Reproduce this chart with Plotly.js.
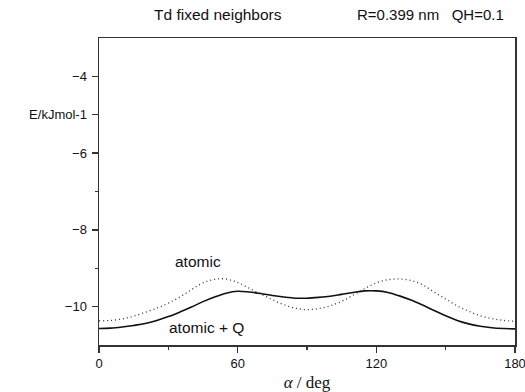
<!DOCTYPE html>
<html>
<head>
<meta charset="utf-8">
<script src="https://cdn.plot.ly/plotly-3.0.1.min.js"></script>
<style>html,body{margin:0;padding:0;background:#fff;}#chart{width:525px;height:392px;}</style>
</head>
<body>
<div id="chart"></div>
<script>
var alpha = [0,5,10,15,20,25,30,35,40,45,50,55,60,65,70,75,80,85,90,95,100,105,110,115,120,125,130,135,140,145,150,155,160,165,170,175,180];
var atomicQ = [-10.57,-10.56,-10.53,-10.49,-10.44,-10.36,-10.26,-10.14,-10.01,-9.87,-9.75,-9.65,-9.60,-9.62,-9.66,-9.71,-9.75,-9.78,-9.78,-9.76,-9.73,-9.68,-9.63,-9.59,-9.59,-9.63,-9.72,-9.83,-9.96,-10.10,-10.24,-10.36,-10.45,-10.51,-10.55,-10.57,-10.58];
var atomic = [-10.37,-10.36,-10.32,-10.25,-10.15,-10.04,-9.91,-9.75,-9.56,-9.38,-9.29,-9.28,-9.37,-9.52,-9.67,-9.82,-9.95,-10.04,-10.08,-10.05,-9.98,-9.86,-9.70,-9.53,-9.38,-9.30,-9.28,-9.32,-9.43,-9.62,-9.80,-9.98,-10.12,-10.24,-10.31,-10.36,-10.38];
var xTickVals = [0,60,120,180];
var xTickText = ["0","60","120","180"];
var yTickVals = [-10,-8,-6,-5,-4];
var yTickText = ["\u221210","\u22128","\u22126","E/kJmol-1","\u22124"];
var titleLeft = "Td fixed neighbors";
var titleRight = "R=0.399 nm &nbsp; QH=0.1";
var labelAtomic = "atomic";
var labelAtomicQ = "atomic + Q";

var font = "Liberation Sans, Arial, sans-serif";
var traces = [
  {x: alpha, y: atomic, mode: "lines", line: {color: "#333", width: 1.3, dash: "1px,3px", shape: "spline"}, hoverinfo: "skip"},
  {x: alpha, y: atomicQ, mode: "lines", line: {color: "#111", width: 1.6, shape: "spline"}, hoverinfo: "skip"}
];
var layout = {
  width: 525, height: 392,
  margin: {l: 99, r: 10, t: 38, b: 47},
  showlegend: false,
  paper_bgcolor: "#fff", plot_bgcolor: "#fff",
  font: {family: font, size: 13, color: "#111"},
  xaxis: {
    range: [0, 180], tickmode: "array", tickvals: xTickVals, ticktext: xTickText,
    ticks: "outside", ticklen: 6, tickwidth: 1.3, tickcolor: "#333",
    showline: true, linecolor: "#333", linewidth: 1.5, mirror: true,
    showgrid: false, zeroline: false, ticklabeloverflow: "allow",
    minor: {tickvals: [30, 90, 150], ticks: "outside", ticklen: 3, tickwidth: 1.3, tickcolor: "#333", showgrid: false},
    tickfont: {family: font, size: 13, color: "#111"},
    title: {text: "<i>\u03b1</i> / deg", font: {family: "Liberation Serif, Times New Roman, serif", size: 17, color: "#111"}, standoff: 6}
  },
  yaxis: {
    range: [-11, -3], tickmode: "array", tickvals: yTickVals, ticktext: yTickText,
    ticks: "outside", ticklen: 6, tickwidth: 1.3, tickcolor: "#333",
    showline: true, linecolor: "#333", linewidth: 1.5, mirror: true,
    showgrid: false, zeroline: false, ticklabelstandoff: 2,
    minor: {tickvals: [-9, -7], ticks: "outside", ticklen: 3, tickwidth: 1.3, tickcolor: "#333", showgrid: false},
    tickfont: {family: font, size: 13, color: "#111"}
  },
  annotations: [
    {text: titleLeft, xref: "paper", yref: "paper", x: (218-99)/416, y: 1 + 23/307, xanchor: "center", yanchor: "middle", showarrow: false, font: {family: font, size: 15.5, color: "#111"}},
    {text: titleRight, xref: "paper", yref: "paper", x: (506-99)/416, y: 1 + 23/307, xanchor: "right", yanchor: "middle", showarrow: false, font: {family: font, size: 15, color: "#111"}},
    {text: labelAtomic, xref: "x", yref: "y", x: 43, y: -8.83, xanchor: "center", yanchor: "middle", showarrow: false, font: {family: font, size: 15.5, color: "#111"}},
    {text: labelAtomicQ, xref: "x", yref: "y", x: 46.5, y: -10.55, xanchor: "center", yanchor: "middle", showarrow: false, font: {family: font, size: 15.5, color: "#111"}}
  ]
};
Plotly.newPlot("chart", traces, layout, {staticPlot: true, displayModeBar: false});
</script>
</body>
</html>
